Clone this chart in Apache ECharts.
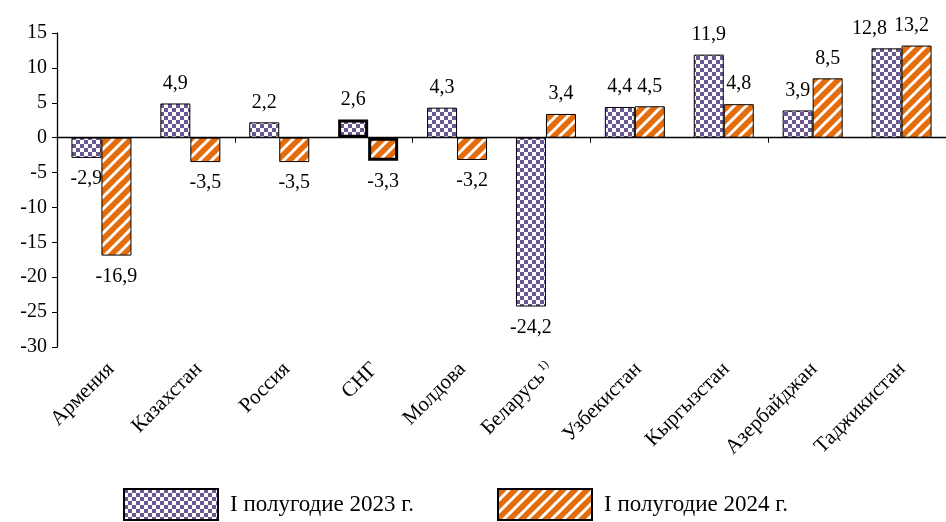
<!DOCTYPE html>
<html>
<head>
<meta charset="utf-8">
<script src="https://cdn.jsdelivr.net/npm/echarts@6/dist/echarts.min.js"></script>
<style>html,body{margin:0;padding:0;background:#fff;}#c{width:946px;height:522px;}</style>
</head>
<body>
<div id="c"></div>
<script>
const categories = ['Армения','Казахстан','Россия','СНГ','Молдова','Беларусь','Узбекистан','Кыргызстан','Азербайджан','Таджикистан'];
const values2023 = [-2.9, 4.9, 2.2, 2.6, 4.3, -24.2, 4.4, 11.9, 3.9, 12.8];
const values2024 = [-16.9, -3.5, -3.5, -3.3, -3.2, 3.4, 4.5, 4.8, 8.5, 13.2];
const seriesNames = ['I полугодие 2023 г.', 'I полугодие 2024 г.'];
const yTicks = {min: -30, max: 15, interval: 5};
const highlighted = 'СНГ';
const footnoted = 'Беларусь';

const FONT = '"Liberation Serif", "Times New Roman", serif';

function checkerPattern() {
  const c = document.createElement('canvas');
  c.width = 8; c.height = 8;
  const g = c.getContext('2d');
  g.fillStyle = '#ffffff'; g.fillRect(0,0,8,8);
  g.fillStyle = '#6b5893';
  g.fillRect(0,0,4,4); g.fillRect(4,4,4,4);
  return c;
}
function stripePattern() {
  const s = 12;
  const c = document.createElement('canvas');
  c.width = s; c.height = s;
  const g = c.getContext('2d');
  g.fillStyle = '#e46c0a'; g.fillRect(0,0,s,s);
  g.strokeStyle = '#ffffff'; g.lineWidth = 3;
  for (let k = -1; k <= 1; k++) {
    g.beginPath();
    g.moveTo(k*s - 2, s + 2);
    g.lineTo(k*s + s + 2, -2);
    g.stroke();
  }
  return c;
}
const fill2023 = {image: checkerPattern(), repeat: 'repeat'};
const fill2024 = {image: stripePattern(), repeat: 'repeat'};

const fmt = v => String(v).replace('.', ',');

// spread labels apart when both bars of a category carry wide labels at nearly equal height
function collides(i) {
  const a = values2023[i], b = values2024[i];
  return a > 0 && b > 0 && Math.abs(a - b) < 2 && fmt(a).length >= 4 && fmt(b).length >= 4;
}

function buildData(vals, seriesIdx) {
  return vals.map((v, i) => {
    const label = v >= 0 ? {position: 'top', distance: 10} : {position: 'bottom', distance: 11};
    if (collides(i)) label.offset = seriesIdx === 0 ? [-17, 0] : [-5, 0];
    const d = {value: v, label: label};
    if (categories[i] === highlighted) d.itemStyle = {borderWidth: 3};
    return d;
  });
}

const labelCommon = {
  show: true, color: '#000', fontFamily: FONT, fontSize: 20,
  formatter: p => fmt(p.value)
};

const legendCommon = {
  top: 488, padding: 0, itemWidth: 94, itemHeight: 31, icon: 'rect',
  textStyle: {fontFamily: FONT, fontSize: 23, color: '#000', padding: [0,0,0,7]}
};

const chart = echarts.init(document.getElementById('c'), null, {renderer: 'canvas'});
chart.setOption({
  animation: false,
  backgroundColor: '#fff',
  textStyle: {fontFamily: FONT},
  grid: [
    {left: 57, top: 33, height: 314, width: 900, containLabel: false},
    {left: 67, top: 33, height: 314, width: 900, containLabel: false}
  ],
  legend: [
    Object.assign({left: 123, data: [seriesNames[0]]}, legendCommon),
    Object.assign({left: 497, data: [seriesNames[1]]}, legendCommon)
  ],
  xAxis: [
    {
      type: 'category', data: categories, position: 'bottom', gridIndex: 0,
      axisLine: {onZero: true, lineStyle: {color: '#000', width: 1.3}},
      axisTick: {show: true, inside: false, length: 5, lineStyle: {color: '#000'}},
      axisLabel: {show: false}
    },
    {
      type: 'category', data: categories, position: 'bottom', gridIndex: 1,
      axisLine: {show: false, onZero: false},
      axisTick: {show: false},
      axisLabel: {
        rotate: 45, margin: 19, interval: 0, color: '#000', fontFamily: FONT, fontSize: 21,
        formatter: v => v === footnoted ? v + '{sup|1)}' : v,
        rich: {sup: {fontSize: 12, fontFamily: FONT, color: '#000', verticalAlign: 'top', padding: [0,0,10,2]}}
      }
    }
  ],
  yAxis: [
    {
      type: 'value', gridIndex: 0, min: yTicks.min, max: yTicks.max, interval: yTicks.interval,
      axisLine: {show: true, lineStyle: {color: '#000', width: 1.3}},
      axisTick: {show: true, inside: false, length: 5, lineStyle: {color: '#000'}},
      splitLine: {show: false},
      axisLabel: {color: '#000', fontFamily: FONT, fontSize: 20, margin: 10}
    },
    {
      type: 'value', gridIndex: 1, min: yTicks.min, max: yTicks.max, interval: yTicks.interval,
      show: false
    }
  ],
  series: [
    {
      name: seriesNames[0], type: 'bar', xAxisIndex: 0, yAxisIndex: 0,
      barWidth: 30, barGap: '0%',
      itemStyle: {color: fill2023, borderColor: '#000', borderWidth: 1},
      label: labelCommon,
      data: buildData(values2023, 0)
    },
    {
      name: seriesNames[1], type: 'bar', xAxisIndex: 0, yAxisIndex: 0,
      barWidth: 30, barGap: '0%',
      itemStyle: {color: fill2024, borderColor: '#000', borderWidth: 1},
      label: labelCommon,
      data: buildData(values2024, 1)
    }
  ]
});
</script>
</body>
</html>
